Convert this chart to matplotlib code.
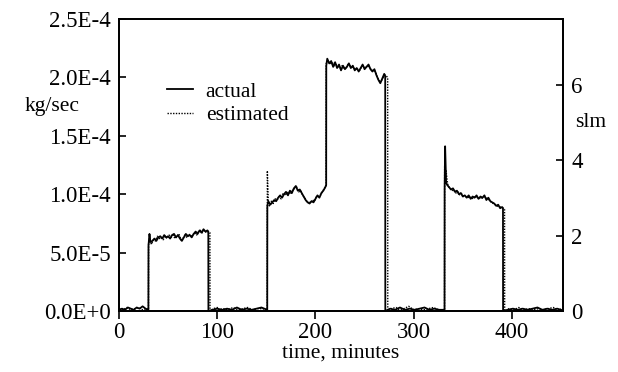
import numpy as np
import matplotlib.pyplot as plt

plt.rcParams['font.family'] = ['Liberation Serif', 'DejaVu Serif']

# flow in units of 1e-5 kg/sec, time in minutes
t_actual = [0, 3, 6, 9, 12, 15, 18, 21, 24, 27, 29.9,
            30, 31, 32, 34, 36, 38, 40, 42, 44, 46, 48, 50, 52, 54, 56, 58, 60,
            62, 64, 66, 68, 70, 72, 74, 76, 78, 80, 82, 84, 86, 88, 90, 90.9,
            91, 95, 100, 105, 110, 115, 120, 125, 130, 135, 140, 145, 150.9,
            151, 152, 154, 156, 158, 160, 162, 164, 166, 168, 170, 172, 174, 176,
            178, 180, 182, 184, 186, 188, 190, 192, 194, 196, 198, 200, 202, 204,
            206, 208, 210, 210.9,
            211, 212, 214, 216, 218, 220, 222, 224, 226, 228, 230, 232, 234, 236,
            238, 240, 242, 244, 246, 248, 250, 252, 254, 256, 258, 260, 262, 264,
            266, 268, 270, 271,
            271.1, 276, 281, 286, 291, 296, 301, 306, 311, 316, 321, 326, 331.4,
            331.5, 332, 333, 334, 336, 338, 340, 342, 344, 346, 348, 350, 352, 354,
            356, 358, 360, 362, 364, 366, 368, 370, 372, 374, 376, 378, 380, 382,
            384, 386, 388, 390, 390.9,
            391, 396, 401, 406, 411, 416, 421, 426, 431, 436, 441, 446, 450]
actual = [0.1, 0.2, 0.1, 0.3, 0.2, 0.1, 0.3, 0.2, 0.4, 0.2, 0.1,
          5.6, 6.6, 5.9, 6.0, 6.2, 6.0, 6.3, 6.4, 6.2, 6.5, 6.3, 6.4, 6.2, 6.5, 6.6, 6.3, 6.5,
          6.2, 6.0, 6.3, 6.6, 6.4, 6.5, 6.3, 6.6, 6.8, 6.6, 6.9, 6.7, 7.0, 6.8, 6.9, 6.8,
          0.0, 0.1, 0.2, 0.1, 0.2, 0.1, 0.3, 0.1, 0.2, 0.1, 0.2, 0.3, 0.1,
          9.0, 9.4, 9.1, 9.3, 9.5, 9.4, 9.7, 9.9, 9.7, 10.0, 10.2, 9.9, 10.3, 10.1,
          10.5, 10.7, 10.3, 10.4, 10.1, 9.8, 9.5, 9.3, 9.2, 9.4, 9.3, 9.6, 9.9, 9.7,
          10.1, 10.3, 10.6, 10.8,
          21.0, 21.6, 21.2, 21.4, 20.9, 21.3, 20.8, 21.1, 20.6, 21.0, 20.7, 20.9, 21.2, 20.8,
          21.0, 20.6, 20.8, 20.5, 20.8, 21.1, 20.7, 20.9, 21.1, 20.7, 20.5, 20.7, 20.2, 19.8,
          19.5, 19.9, 20.3, 20.1,
          0.0, 0.2, 0.1, 0.3, 0.1, 0.2, 0.1, 0.2, 0.3, 0.1, 0.2, 0.1, 0.1,
          10.5, 14.1, 11.0, 10.8, 10.6, 10.4, 10.5, 10.2, 10.3, 10.0, 10.1, 9.8, 9.9, 9.7,
          9.9, 9.6, 9.8, 9.7, 9.9, 9.6, 9.8, 9.7, 9.9, 9.5, 9.7, 9.4, 9.3, 9.2,
          9.0, 9.1, 8.8, 8.9, 8.8,
          0.0, 0.1, 0.2, 0.1, 0.2, 0.1, 0.2, 0.3, 0.1, 0.2, 0.1, 0.2, 0.1]

t_est = [0, 4, 8, 12, 16, 20, 24, 28, 30,
         30.1, 31, 33, 35, 37, 39, 41, 43, 45, 47, 49, 51, 53, 55, 57, 59, 61, 63,
         65, 67, 69, 71, 73, 75, 77, 79, 81, 83, 85, 87, 89, 91, 92.5,
         92.6, 96, 100, 101, 106, 111, 116, 121, 126, 131, 136, 141, 146, 150.9,
         151, 152, 153, 155, 157, 159, 161, 163, 165, 167, 169, 171, 173, 175, 177,
         179, 181, 183, 185, 187, 189, 191, 193, 195, 197, 199, 201, 203, 205, 207,
         209, 210.9,
         211, 213, 215, 217, 219, 221, 223, 225, 227, 229, 231, 233, 235, 237, 239,
         241, 243, 245, 247, 249, 251, 253, 255, 257, 259, 261, 263, 265, 267, 269,
         271, 273.5,
         273.6, 277, 282, 285, 290, 295, 300, 305, 310, 315, 320, 325, 331.4,
         331.5, 332.5, 333, 334, 335, 337, 339, 341, 343, 345, 347, 349, 351, 353,
         355, 357, 359, 361, 363, 365, 367, 369, 371, 373, 375, 377, 379, 381, 383,
         385, 387, 389, 391, 392.5,
         392.6, 397, 402, 407, 412, 417, 422, 427, 432, 437, 442, 447, 450]
estimated = [0.2, 0.1, 0.3, 0.1, 0.2, 0.3, 0.1, 0.2, 0.1,
             5.8, 6.2, 5.7, 6.1, 6.0, 6.4, 6.2, 6.3, 6.1, 6.4, 6.2, 6.5, 6.3, 6.5, 6.2, 6.4, 6.6, 6.1,
             6.2, 6.5, 6.3, 6.6, 6.4, 6.5, 6.7, 6.5, 6.8, 6.9, 6.7, 6.9, 6.7, 6.8, 6.7,
             0.0, 0.2, 0.3, 0.1, 0.2, 0.1, 0.3, 0.1, 0.2, 0.3, 0.1, 0.2, 0.2, 0.1,
             12.0, 9.3, 9.0, 9.4, 9.2, 9.6, 9.5, 9.8, 9.6, 10.1, 9.9, 10.1, 10.2, 10.0, 10.4,
             10.5, 10.6, 10.2, 10.3, 9.9, 9.7, 9.4, 9.3, 9.3, 9.5, 9.4, 9.8, 9.8, 9.9, 10.2,
             10.5, 10.7,
             21.2, 21.4, 21.1, 21.3, 21.0, 21.1, 20.9, 20.8, 21.0, 20.8, 20.8, 21.1, 21.0, 20.9, 20.8,
             20.7, 20.7, 20.6, 20.9, 21.0, 20.8, 21.0, 20.9, 20.6, 20.6, 20.5, 20.0, 19.7, 19.7, 20.0,
             20.2, 20.0,
             0.0, 0.2, 0.3, 0.1, 0.2, 0.4, 0.1, 0.2, 0.1, 0.2, 0.3, 0.1, 0.1,
             12.5, 11.5, 12.0, 11.2, 10.7, 10.5, 10.3, 10.4, 10.1, 10.2, 9.9, 10.0, 9.8, 9.8,
             9.7, 9.8, 9.6, 9.7, 9.8, 9.7, 9.7, 9.6, 9.8, 9.7, 9.6, 9.5, 9.3, 9.2, 9.1,
             9.0, 8.9, 8.9, 8.8, 8.7,
             0.0, 0.2, 0.1, 0.3, 0.1, 0.2, 0.1, 0.2, 0.1, 0.2, 0.3, 0.1, 0.2]

left_ticks = [0, 5e-5, 1e-4, 1.5e-4, 2e-4, 2.5e-4]
left_labels = ['0.0E+0', '5.0E-5', '1.0E-4', '1.5E-4', '2.0E-4', '2.5E-4']
right_ticks = [0, 2, 4, 6]
x_ticks = [0, 100, 200, 300, 400]

fig = plt.figure(figsize=(6.18, 3.72), dpi=100)
ax = fig.add_axes([0.1926, 0.164, 0.7184, 0.785])

ax.plot(t_actual, np.array(actual) * 1e-5, color='black', lw=1.3, label='actual')
ax.plot(t_est, np.array(estimated) * 1e-5, color='black', lw=1.0,
        linestyle=(0, (1, 1)), label='estimated')

ax.set_xlim(0, 452)
ax.set_ylim(0, 2.5e-4)
ax.set_xticks(x_ticks)
ax.set_yticks(left_ticks)
ax.set_yticklabels(left_labels)
ax.tick_params(axis='y', direction='in', length=5, width=1.2, labelsize=16.5, pad=6)
ax.tick_params(axis='x', direction='out', length=6, width=1.2, labelsize=16.5, pad=2)
for s in ax.spines.values():
    s.set_linewidth(1.3)

ax2 = ax.twinx()
ax2.set_ylim(0, 7.75)
ax2.set_yticks(right_ticks)
ax2.tick_params(axis='y', direction='in', length=5, width=1.2, labelsize=16.5, pad=6)
for s in ax2.spines.values():
    s.set_linewidth(1.3)

ax.set_xlabel('time, minutes', fontsize=15.5, labelpad=0)
fig.text(0.085, 0.715, 'kg/sec', fontsize=15.5, ha='center', va='center')
fig.text(0.955, 0.67, 'slm', fontsize=15.5, ha='center', va='center')

ax.legend(loc='upper left', bbox_to_anchor=(0.108, 0.785), frameon=False,
          fontsize=15.5, handlelength=1.2, handletextpad=0.6, labelspacing=0.15,
          borderpad=0, borderaxespad=0)

fig.savefig('out.png', dpi=100)
